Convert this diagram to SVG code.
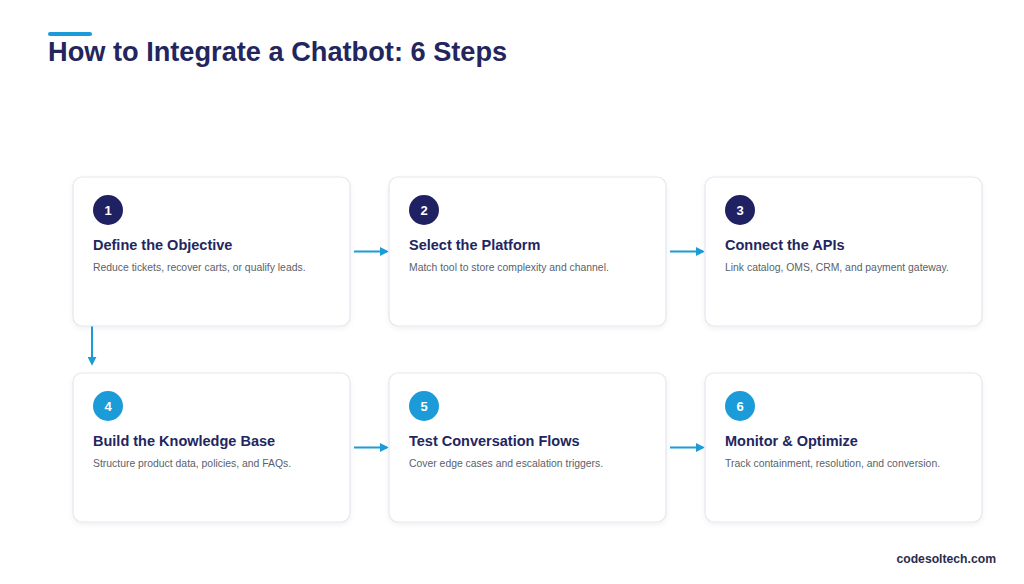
<svg xmlns="http://www.w3.org/2000/svg" width="1024" height="584" viewBox="0 0 1024 584">
<defs>
<style>
.card{fill:#ffffff;stroke:#e3e7ee;stroke-width:1.2}
.t{font-family:"Liberation Sans",Arial,sans-serif;font-weight:bold;font-size:14.5px;fill:#23265e}
.d{font-family:"Liberation Sans",Arial,sans-serif;font-size:10.4px;fill:#5a5f6b}
.n{font-family:"Liberation Sans",Arial,sans-serif;font-weight:bold;font-size:13px;fill:#ffffff;text-anchor:middle}
.c1{fill:#1f2163}
.c2{fill:#1b9bd8}
.conn{stroke:#1b9bd8;stroke-width:2;fill:none;marker-end:url(#ah)}
</style>
<marker id="ah" viewBox="0 0 10 10" refX="8" refY="5" markerWidth="4.5" markerHeight="4.5" orient="auto" markerUnits="strokeWidth">
<path d="M0,0 L10,5 L0,10 z" fill="#1b9bd8"/>
</marker>
<filter id="sh" x="-10%" y="-10%" width="120%" height="130%">
<feDropShadow dx="0" dy="2" stdDeviation="2.5" flood-color="#1e2a50" flood-opacity="0.06"/>
</filter>
</defs>
<rect width="1024" height="584" fill="#ffffff"/>
<rect x="48" y="32" width="44" height="4" rx="2" fill="#1b9bd8"/>
<text x="48" y="61" font-family="'Liberation Sans',Arial,sans-serif" font-weight="bold" font-size="27.2" fill="#23265e">How to Integrate a Chatbot: 6 Steps</text>

<g id="connectors">
<line class="conn" x1="354" y1="251.5" x2="387" y2="251.5"/>
<line class="conn" x1="670" y1="251.5" x2="703" y2="251.5"/>
<line class="conn" x1="92" y1="324" x2="92" y2="364"/>
<line class="conn" x1="354" y1="447.5" x2="387" y2="447.5"/>
<line class="conn" x1="670" y1="447.5" x2="703" y2="447.5"/>
</g>

<g id="step1">
<rect class="card" x="73" y="177" width="277" height="149" rx="9" filter="url(#sh)"/>
<circle class="c1" cx="108" cy="210" r="15"/>
<text class="n" x="108" y="214.5">1</text>
<text class="t" x="93" y="249.5">Define the Objective</text>
<text class="d" x="93" y="271">Reduce tickets, recover carts, or qualify leads.</text>
</g>
<g id="step2">
<rect class="card" x="389" y="177" width="277" height="149" rx="9" filter="url(#sh)"/>
<circle class="c1" cx="424" cy="210" r="15"/>
<text class="n" x="424" y="214.5">2</text>
<text class="t" x="409" y="249.5">Select the Platform</text>
<text class="d" x="409" y="271">Match tool to store complexity and channel.</text>
</g>
<g id="step3">
<rect class="card" x="705" y="177" width="277" height="149" rx="9" filter="url(#sh)"/>
<circle class="c1" cx="740" cy="210" r="15"/>
<text class="n" x="740" y="214.5">3</text>
<text class="t" x="725" y="249.5">Connect the APIs</text>
<text class="d" x="725" y="271">Link catalog, OMS, CRM, and payment gateway.</text>
</g>
<g id="step4">
<rect class="card" x="73" y="373" width="277" height="149" rx="9" filter="url(#sh)"/>
<circle class="c2" cx="108" cy="406" r="15"/>
<text class="n" x="108" y="410.5">4</text>
<text class="t" x="93" y="445.5">Build the Knowledge Base</text>
<text class="d" x="93" y="467">Structure product data, policies, and FAQs.</text>
</g>
<g id="step5">
<rect class="card" x="389" y="373" width="277" height="149" rx="9" filter="url(#sh)"/>
<circle class="c2" cx="424" cy="406" r="15"/>
<text class="n" x="424" y="410.5">5</text>
<text class="t" x="409" y="445.5">Test Conversation Flows</text>
<text class="d" x="409" y="467">Cover edge cases and escalation triggers.</text>
</g>
<g id="step6">
<rect class="card" x="705" y="373" width="277" height="149" rx="9" filter="url(#sh)"/>
<circle class="c2" cx="740" cy="406" r="15"/>
<text class="n" x="740" y="410.5">6</text>
<text class="t" x="725" y="445.5">Monitor &amp; Optimize</text>
<text class="d" x="725" y="467">Track containment, resolution, and conversion.</text>
</g>

<text x="996" y="563" text-anchor="end" font-family="'Liberation Sans',Arial,sans-serif" font-weight="bold" font-size="12.2" fill="#2a2c4c">codesoltech.com</text>
</svg>
